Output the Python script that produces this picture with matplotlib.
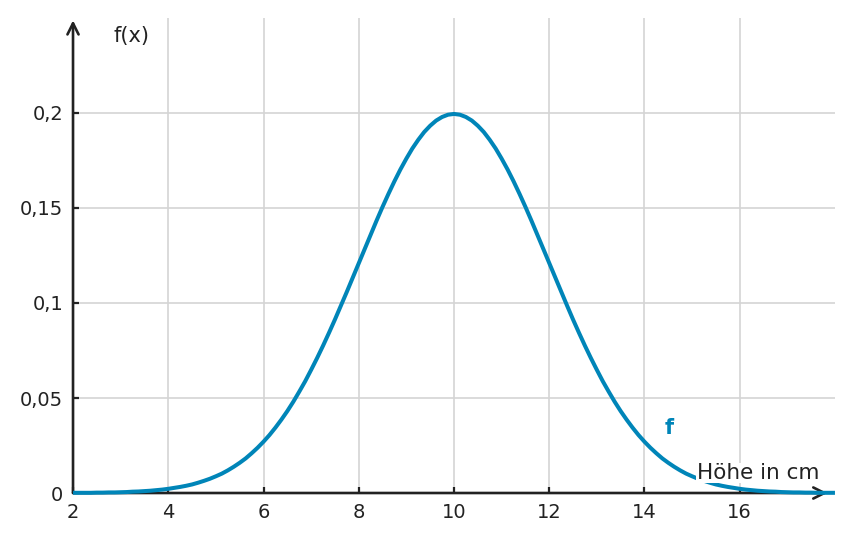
import numpy as np
import matplotlib.pyplot as plt

x = np.linspace(2, 18, 129)
f = [0.0001, 0.0001, 0.0001, 0.0001, 0.0002, 0.0002, 0.0003, 0.0003,
     0.0004, 0.0005, 0.0007, 0.0008, 0.0010, 0.0012, 0.0015, 0.0018,
     0.0022, 0.0027, 0.0032, 0.0038, 0.0045, 0.0054, 0.0064, 0.0075,
     0.0088, 0.0102, 0.0119, 0.0138, 0.0159, 0.0182, 0.0209, 0.0238,
     0.0270, 0.0305, 0.0344, 0.0386, 0.0431, 0.0480, 0.0533, 0.0588,
     0.0648, 0.0710, 0.0775, 0.0843, 0.0913, 0.0986, 0.1059, 0.1134,
     0.1210, 0.1285, 0.1360, 0.1434, 0.1506, 0.1575, 0.1641, 0.1703,
     0.1760, 0.1813, 0.1859, 0.1900, 0.1933, 0.1960, 0.1979, 0.1991,
     0.1995,
     0.1991, 0.1979, 0.1960, 0.1933, 0.1900, 0.1859, 0.1813, 0.1760,
     0.1703, 0.1641, 0.1575, 0.1506, 0.1434, 0.1360, 0.1285, 0.1210,
     0.1134, 0.1059, 0.0986, 0.0913, 0.0843, 0.0775, 0.0710, 0.0648,
     0.0588, 0.0533, 0.0480, 0.0431, 0.0386, 0.0344, 0.0305, 0.0270,
     0.0238, 0.0209, 0.0182, 0.0159, 0.0138, 0.0119, 0.0102, 0.0088,
     0.0075, 0.0064, 0.0054, 0.0045, 0.0038, 0.0032, 0.0027, 0.0022,
     0.0018, 0.0015, 0.0012, 0.0010, 0.0008, 0.0007, 0.0005, 0.0004,
     0.0003, 0.0003, 0.0002, 0.0002, 0.0001, 0.0001, 0.0001, 0.0001]

xticks = [2, 4, 6, 8, 10, 12, 14, 16]
yticks = [0, 0.05, 0.1, 0.15, 0.2]
ylabels = ['0', '0,05', '0,1', '0,15', '0,2']

blue = '#0085b8'
dark = '#222222'

fig = plt.figure(figsize=(8.52, 5.42), dpi=100)
ax = fig.add_axes([0.0857, 0.0904, 0.8943, 0.8764])
ax.set_xlim(2, 18)
ax.set_ylim(0, 0.25)

for s in ax.spines.values():
    s.set_visible(False)

# Gitter
for xv in xticks[1:]:
    ax.axvline(xv, color='#d4d4d4', lw=1.2, zorder=0)
for yv in yticks[1:]:
    ax.axhline(yv, color='#d4d4d4', lw=1.2, zorder=0)

# Achsen mit Pfeilen
ax.annotate('', xy=(0.99, 0), xytext=(0, 0), xycoords='axes fraction',
            arrowprops=dict(arrowstyle='->', color=dark, lw=1.9,
                            mutation_scale=20, shrinkA=0, shrinkB=0), zorder=2)
ax.annotate('', xy=(0, 0.995), xytext=(0, 0), xycoords='axes fraction',
            arrowprops=dict(arrowstyle='->', color=dark, lw=1.9,
                            mutation_scale=20, shrinkA=0, shrinkB=0), zorder=2)

ax.set_xticks(xticks)
ax.set_xticklabels([str(v) for v in xticks])
ax.set_yticks(yticks)
ax.set_yticklabels(ylabels)
ax.tick_params(direction='in', length=4, width=1.6, color=dark,
               labelsize=14, labelcolor=dark, pad=7)

ax.plot(x, f, color=blue, lw=2.9, zorder=3, clip_on=False,
        solid_joinstyle='round', solid_capstyle='butt')

ax.text(2.84, 0.2405, 'f(x)', fontsize=15, color=dark, va='center', ha='left')
ax.text(14.43, 0.034, 'f', fontsize=15, color=blue, fontweight='bold',
        va='center', ha='left')
ax.text(15.1, 0.0105, 'Höhe in cm', fontsize=15.5, color=dark, va='center',
        ha='left', zorder=4,
        bbox=dict(facecolor='white', edgecolor='none', pad=0.3))

fig.savefig('out.png', dpi=100)
